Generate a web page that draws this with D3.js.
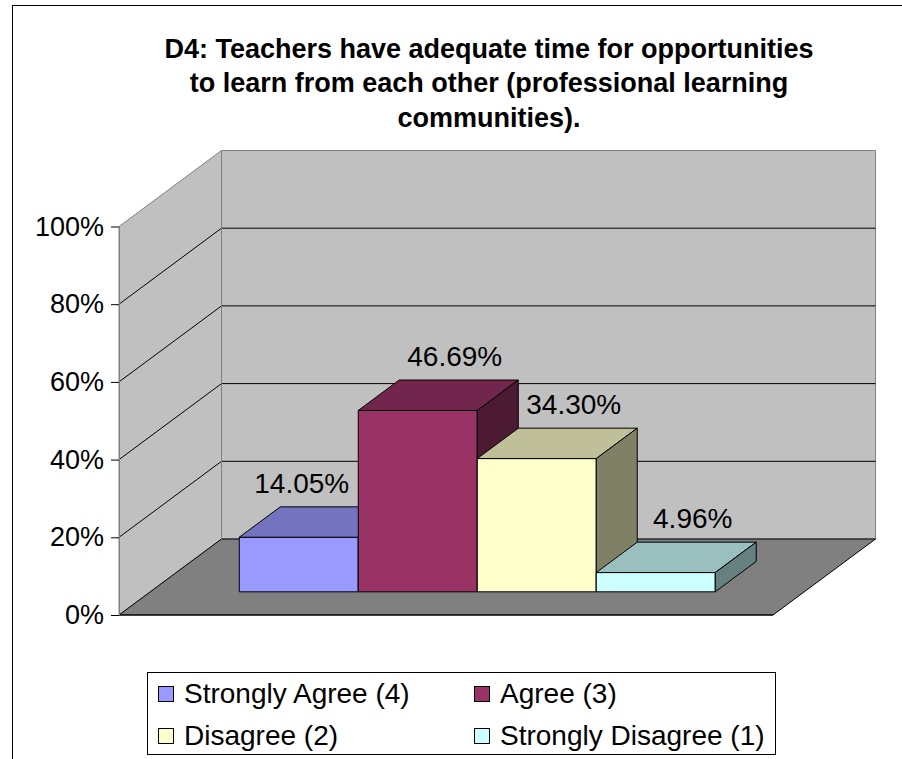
<!DOCTYPE html>
<html>
<head>
<meta charset="utf-8">
<script src="https://cdn.jsdelivr.net/npm/d3@7"></script>
<style>
  html, body { margin: 0; padding: 0; background: #fff; }
  svg { display: block; font-family: Arial, "Liberation Sans", sans-serif; }
</style>
</head>
<body>
<svg id="chart" width="902" height="759"></svg>
<script>
// ---- data ----
const titleLines = [
  "D4: Teachers have adequate time for opportunities",
  "to learn from each other (professional learning",
  "communities)."
];
const categories = ["Strongly Agree (4)", "Agree (3)", "Disagree (2)", "Strongly Disagree (1)"];
const values = [0.1405, 0.4669, 0.3430, 0.0496];
const valueLabels = ["14.05%", "46.69%", "34.30%", "4.96%"];
const colors = ["#9999FF", "#993366", "#FFFFCC", "#CCFFFF"];
const tickValues = [0, 0.2, 0.4, 0.6, 0.8, 1.0];
const tickLabels = ["0%", "20%", "40%", "60%", "80%", "100%"];

// ---- layout ----
const svg = d3.select("#chart");
const W = 902, H = 759;
const front = { left: 119, right: 773, bottom: 615, top: 226.5 };
const depth = { dx: 102.5, dy: -76 };
const barD0 = 0.305, barD1 = 0.705;

const y = d3.scaleLinear().domain([0, 1]).range([front.bottom, front.top]);
const x = d3.scaleBand().domain(categories).range([front.left, front.right])
  .paddingInner(0).paddingOuter(0.748);

const P = (px, py, d) => [px + depth.dx * d, py + depth.dy * d];
const poly = pts => pts.map(p => p.join(",")).join(" ");

svg.append("rect").attr("width", W).attr("height", H).attr("fill", "#fff");
// chart outer border (extends beyond viewport)
svg.append("rect").attr("x", 12.5).attr("y", 5.5).attr("width", 1000).attr("height", 1000)
  .attr("fill", "none").attr("stroke", "#000").attr("stroke-width", 1);

// title
const title = svg.append("text").attr("text-anchor", "middle")
  .attr("font-weight", "bold").attr("font-size", 27).attr("fill", "#000");
titleLines.forEach((t, i) => {
  title.append("tspan").attr("x", 489).attr("y", 57.5 + i * 34.5).text(t);
});

const g = svg.append("g");
const wallFill = "#C0C0C0", wallStroke = "#808080";

// back wall
const y0 = y(0), y1 = y(1);
g.append("polygon").attr("points", poly([
  P(front.left, y1, 1), P(front.right, y1, 1), P(front.right, y0, 1), P(front.left, y0, 1)
])).attr("fill", wallFill).attr("stroke", wallStroke);
// side wall
g.append("polygon").attr("points", poly([
  P(front.left, y1, 0), P(front.left, y1, 1), P(front.left, y0, 1), P(front.left, y0, 0)
])).attr("fill", wallFill).attr("stroke", wallStroke);
// floor
g.append("polygon").attr("points", poly([
  P(front.left, y0, 0), P(front.left, y0, 1), P(front.right, y0, 1), P(front.right, y0, 0)
])).attr("fill", "#808080").attr("stroke", "#000").attr("stroke-width", 1);

// gridlines
const grid = tickValues.filter(v => v > 0 && v < 1);
grid.forEach(v => {
  const a = P(front.left, y(v), 0), b = P(front.left, y(v), 1), c = P(front.right, y(v), 1);
  g.append("polyline").attr("points", poly([a, b, c]))
    .attr("fill", "none").attr("stroke", "#000").attr("stroke-width", 1);
});
// redraw wall edges
g.append("line").attr("x1", P(front.left, y1, 1)[0]).attr("y1", P(front.left, y1, 1)[1])
  .attr("x2", P(front.left, y0, 1)[0]).attr("y2", P(front.left, y0, 1)[1]).attr("stroke", wallStroke);
g.append("line").attr("x1", front.left).attr("y1", y0).attr("x2", front.right).attr("y2", y0)
  .attr("stroke", "#000");

// bars
const shade = (c, k) => { const r = d3.rgb(c); return d3.rgb(r.r * k, r.g * k, r.b * k).formatHex(); };
const bw = x.bandwidth();
categories.forEach((cat, i) => {
  const xl = x(cat), xr = xl + bw, yt = y(values[i]), yb = y(0);
  const bar = g.append("g");
  bar.append("polygon").attr("points", poly([
    P(xl, yt, barD0), P(xr, yt, barD0), P(xr, yb, barD0), P(xl, yb, barD0)
  ])).attr("fill", colors[i]).attr("stroke", "#000").attr("stroke-width", 1);
  bar.append("polygon").attr("points", poly([
    P(xl, yt, barD0), P(xl, yt, barD1), P(xr, yt, barD1), P(xr, yt, barD0)
  ])).attr("fill", shade(colors[i], 0.75)).attr("stroke", "#000").attr("stroke-width", 1);
  bar.append("polygon").attr("points", poly([
    P(xr, yt, barD0), P(xr, yt, barD1), P(xr, yb, barD1), P(xr, yb, barD0)
  ])).attr("fill", shade(colors[i], 0.5)).attr("stroke", "#000").attr("stroke-width", 1);
});

// value labels
const labels = svg.append("g").attr("font-size", 28).attr("fill", "#000");
categories.forEach((cat, i) => {
  const xl = x(cat);
  const backTop = P(xl + bw / 2, y(values[i]), barD1);
  const t = labels.append("text").attr("text-anchor", "middle")
    .attr("x", backTop[0] - 4).attr("y", backTop[1] - 14).text(valueLabels[i]);
  // avoid overlapping the next (taller) bar
  if (i < categories.length - 1 && values[i + 1] > values[i]) {
    const nextLeft = P(x(categories[i + 1]), 0, barD0)[0];
    const w = t.node().getComputedTextLength();
    if (backTop[0] + w / 2 > nextLeft - 9) t.attr("x", nextLeft - 9 - w / 2);
  }
});

// y axis
const axis = d3.axisLeft(y).tickValues(tickValues)
  .tickFormat((d, i) => tickLabels[i]).tickSize(8).tickSizeOuter(0).tickPadding(7);
const ax = svg.append("g").attr("transform", `translate(${front.left},0)`).call(axis);
ax.select(".domain").attr("stroke", "#808080");
ax.selectAll(".tick line").attr("stroke", "#000");
ax.selectAll(".tick text").attr("font-size", 27).attr("font-family", "Arial, 'Liberation Sans', sans-serif")
  .attr("fill", "#000");

// legend
const leg = svg.append("g");
const legBox = { x: 147.5, y: 672.5, w: 628, h: 82 };
leg.append("rect").attr("x", legBox.x).attr("y", legBox.y).attr("width", legBox.w).attr("height", legBox.h)
  .attr("fill", "#fff").attr("stroke", "#000");
const colX = [158, 474], rowBase = [703, 745];
categories.forEach((cat, i) => {
  const cx = colX[i % 2], by = rowBase[Math.floor(i / 2)];
  leg.append("rect").attr("x", cx + 0.5).attr("y", by - 16.5).attr("width", 15).attr("height", 15)
    .attr("fill", colors[i]).attr("stroke", "#000");
  leg.append("text").attr("x", cx + 26).attr("y", by)
    .attr("font-size", 28).attr("fill", "#000").text(cat);
});
</script>
</body>
</html>
